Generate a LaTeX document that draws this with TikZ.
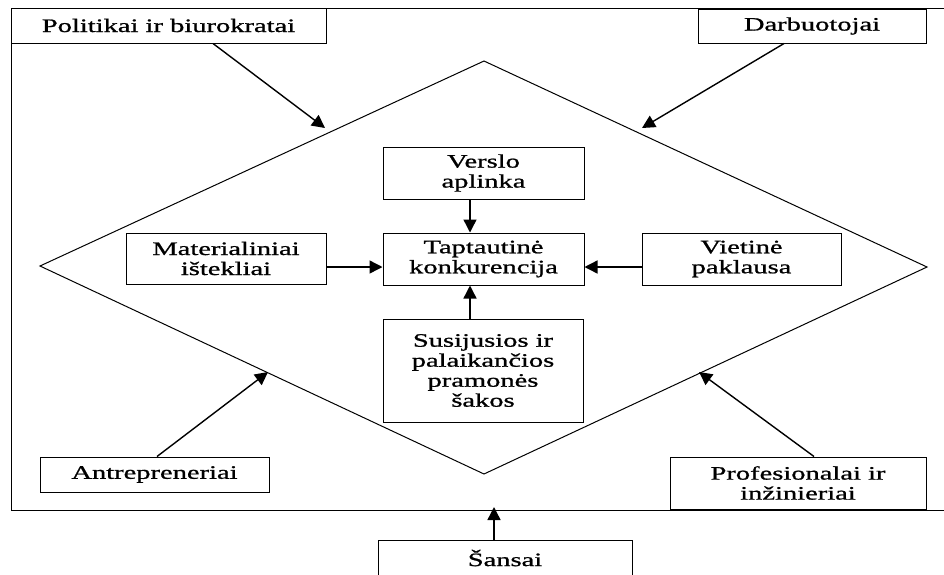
\documentclass[tikz,border=0pt]{standalone}
\usepackage{fontspec}
\setmainfont{Liberation Serif}[FakeStretch=1.5,FakeBold=1]
\usetikzlibrary{arrows.meta,calc}
\begin{document}
\begin{tikzpicture}[x=1pt,y=-1pt,
  box/.style={draw,line width=1pt,align=center,inner sep=0pt,
    font=\fontsize{19}{20}\selectfont},
  arr/.style={line width=1.4pt,-{Triangle[length=13pt,width=13pt]}},
  edge/.style={line width=1pt}]
\useasboundingbox (0,0) rectangle (944,574);
\clip (0,0) rectangle (944,574);
% frame
\draw[edge] (11,8) rectangle (960,510);
% diamond
\coordinate (L) at (40,266);
\coordinate (T) at (484,61);
\coordinate (R) at (927,267);
\coordinate (B) at (484,474);
\draw[edge] (L) -- (T) -- (R) -- (B) -- cycle;
% outer boxes
\node[box,fill=white,minimum width=315pt,minimum height=35pt] (pol) at (168.5,25.5) {Politikai ir biurokratai};
\node[box,fill=white,minimum width=228pt,minimum height=34pt] (dar) at (812,26) {Darbuotojai};
\node[box,minimum width=229pt,minimum height=35pt] (ant) at (154.5,474.5) {Antrepreneriai};
\node[box,minimum width=256pt,minimum height=52pt] (pro) at (798,483) {Profesionalai ir\\inžinieriai};
\node[box,minimum width=254pt,minimum height=36pt] (san) at (505,558) {Šansai};
% inner boxes
\node[box,minimum width=201pt,minimum height=52pt] (ver) at (483.5,173) {Verslo\\aplinka};
\node[box,minimum width=201pt,minimum height=52pt] (tap) at (483.5,259) {Taptautinė\\konkurencija};
\node[box,minimum width=200pt,minimum height=51pt] (mat) at (226,258.5) {Materialiniai\\ištekliai};
\node[box,minimum width=199pt,minimum height=52pt] (vie) at (741.5,259) {Vietinė\\paklausa};
\node[box,minimum width=200pt,minimum height=103pt] (sus) at (483,370.5) {Susijusios ir\\palaikančios\\pramonės\\šakos};
% arrow end points on the diamond
\coordinate (ePol) at (325,128);
\coordinate (eDar) at (642,128);
\coordinate (eAnt) at (268,372);
\coordinate (ePro) at (699,372);
\coordinate (eSan) at (494,507);
% arrows
\draw[arr] ([xshift=44.5pt]pol.south) -- (ePol);
\draw[arr] ([xshift=-28pt]dar.south) -- (eDar);
\draw[arr] ([xshift=2.5pt]ant.north) -- (eAnt);
\draw[arr] ([xshift=16pt]pro.north) -- (ePro);
\draw[arr] ([xshift=-11pt]san.north) -- (eSan);
\draw[arr] ([xshift=-13.5pt]ver.south) -- ([xshift=-13.5pt]tap.north);
\draw[arr] ([xshift=-13pt]sus.north) -- ([xshift=-13.5pt]tap.south);
\draw[arr] ($(mat.east)+(0,8.5)$) -- ($(tap.west)+(0,8)$);
\draw[arr] ($(vie.west)+(0,8)$) -- ($(tap.east)+(0,8)$);
\end{tikzpicture}
\end{document}
